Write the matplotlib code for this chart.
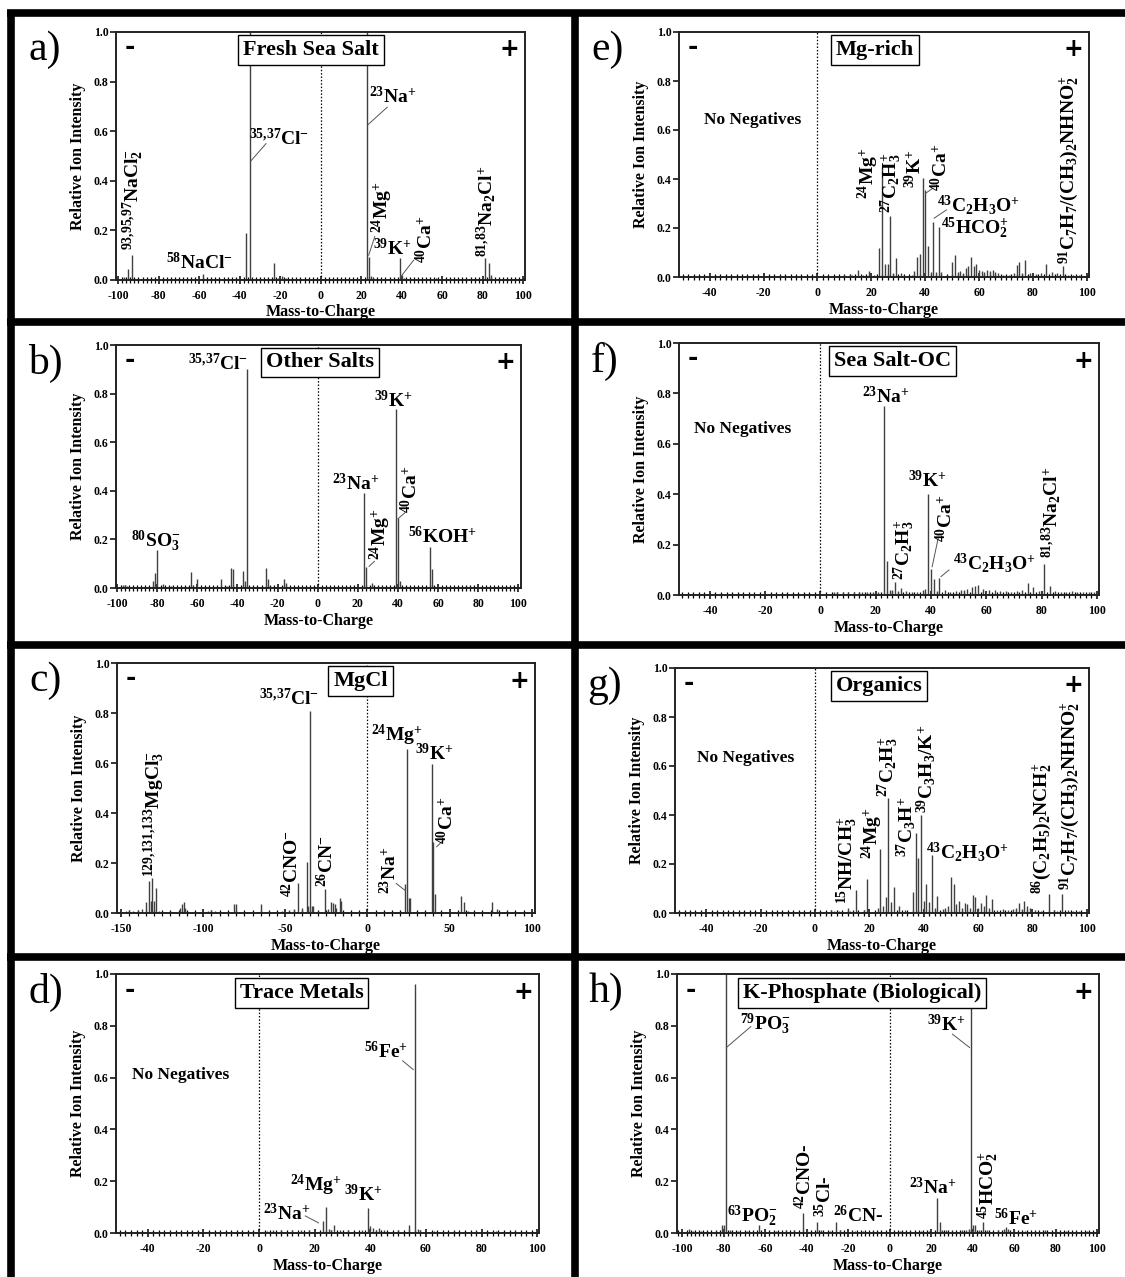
import matplotlib
matplotlib.use("Agg")
import matplotlib.pyplot as plt
import matplotlib.transforms as mtransforms
from matplotlib.lines import Line2D
from matplotlib.ticker import MultipleLocator, FormatStrFormatter

plt.rcParams["font.family"] = ["Liberation Serif", "DejaVu Serif"]
plt.rcParams["font.weight"] = "bold"
plt.rcParams["mathtext.default"] = "regular"
plt.rcParams["axes.unicode_minus"] = False

# (m/z, relative intensity)
a_peaks = [(-97, 0.012), (-95, 0.043), (-93, 0.10), (-90, 0.006), (-58, 0.024), (-37, 0.19),
           (-35, 1.0), (-30, 0.006), (-23, 0.07), (-21, 0.01), (-19, 0.016), (-17, 0.008),
           (23, 1.0), (24, 0.094), (25, 0.015), (26, 0.01), (39, 0.09), (40, 0.02), (41, 0.008),
           (57, 0.008), (81, 0.087), (83, 0.067), (84, 0.02)]
b_peaks = [(-97, 0.012), (-96, 0.014), (-95, 0.01), (-82, 0.03), (-81, 0.063), (-80, 0.155),
           (-77, 0.015), (-73, 0.01), (-63, 0.067), (-62, 0.01), (-60, 0.037), (-48, 0.037),
           (-45, 0.01), (-43, 0.081), (-42, 0.078), (-37, 0.069), (-36, 0.03), (-35, 0.9),
           (-26, 0.081), (-25, 0.036), (-24, 0.01), (-17, 0.036), (-16, 0.02), (23, 0.39),
           (24, 0.088), (27, 0.02), (30, 0.008), (39, 0.735), (40, 0.288), (41, 0.027),
           (56, 0.17), (57, 0.078), (60, 0.01), (76, 0.01)]
c_peaks = [(-147, 0.01), (-145, 0.012), (-143, 0.01), (-140, 0.012), (-137, 0.015), (-135, 0.045),
           (-133, 0.13), (-132, 0.05), (-131, 0.14), (-130, 0.05), (-129, 0.10), (-127, 0.01),
           (-120, 0.008), (-114, 0.02), (-113, 0.035), (-112, 0.045), (-111, 0.02), (-97, 0.01),
           (-95, 0.012), (-93, 0.01), (-81, 0.035), (-80, 0.035), (-65, 0.035), (-60, 0.01),
           (-52, 0.01), (-48, 0.012), (-45, 0.015), (-42, 0.12), (-40, 0.02), (-37, 0.205),
           (-36, 0.03), (-35, 0.81), (-34, 0.03), (-33, 0.03), (-30, 0.01), (-26, 0.096),
           (-24, 0.015), (-22, 0.045), (-21, 0.04), (-20, 0.035), (-19, 0.02), (-17, 0.06),
           (-16, 0.05), (23, 0.115), (24, 0.655), (25, 0.06), (26, 0.06), (39, 0.595),
           (40, 0.285), (41, 0.075), (57, 0.068), (59, 0.045), (61, 0.01), (76, 0.045),
           (79, 0.015), (85, 0.008)]
d_peaks = [(3, 0.008), (5, 0.01), (8, 0.01), (12, 0.01), (15, 0.012), (18, 0.01), (23, 0.045),
           (24, 0.10), (25, 0.015), (26, 0.012), (27, 0.03), (29, 0.012), (32, 0.01), (37, 0.01),
           (39, 0.097), (40, 0.026), (41, 0.02), (42, 0.012), (43, 0.02), (45, 0.01), (50, 0.01),
           (54, 0.03), (56, 0.96), (57, 0.015), (58, 0.01), (63, 0.008), (70, 0.008), (78, 0.008),
           (85, 0.008), (92, 0.008)]
e_peaks = [(6, 0.005), (10, 0.008), (12, 0.012), (13, 0.01), (15, 0.028), (17, 0.008), (19, 0.025),
           (21, 0.008), (23, 0.117), (24, 0.45), (25, 0.055), (26, 0.055), (27, 0.25), (28, 0.015),
           (29, 0.078), (31, 0.015), (32, 0.01), (35, 0.008), (36, 0.025), (37, 0.083), (38, 0.095),
           (39, 0.405), (40, 0.355), (41, 0.128), (42, 0.02), (43, 0.225), (44, 0.02), (45, 0.205),
           (46, 0.02), (48, 0.01), (50, 0.06), (51, 0.088), (52, 0.02), (53, 0.025), (54, 0.015),
           (55, 0.035), (56, 0.045), (57, 0.083), (58, 0.045), (59, 0.055), (60, 0.03), (61, 0.025),
           (62, 0.02), (63, 0.03), (64, 0.025), (65, 0.03), (66, 0.02), (67, 0.015), (69, 0.01),
           (71, 0.01), (73, 0.015), (74, 0.05), (75, 0.06), (76, 0.015), (77, 0.07), (79, 0.015),
           (81, 0.012), (83, 0.015), (85, 0.055), (87, 0.02), (89, 0.015), (91, 0.043), (93, 0.01),
           (95, 0.008), (97, 0.008)]
f_peaks = [(5, 0.01), (6, 0.012), (8, 0.01), (10, 0.012), (12, 0.01), (14, 0.012), (15, 0.012),
           (17, 0.01), (19, 0.012), (21, 0.01), (23, 0.75), (24, 0.135), (25, 0.02), (26, 0.02),
           (27, 0.053), (28, 0.015), (29, 0.026), (31, 0.015), (33, 0.012), (35, 0.012), (37, 0.02),
           (38, 0.022), (39, 0.40), (40, 0.105), (41, 0.063), (42, 0.015), (43, 0.068), (45, 0.02),
           (47, 0.012), (49, 0.015), (51, 0.02), (52, 0.018), (53, 0.022), (55, 0.03), (56, 0.035),
           (57, 0.04), (59, 0.025), (61, 0.018), (63, 0.02), (65, 0.015), (67, 0.015), (69, 0.012),
           (71, 0.015), (73, 0.018), (75, 0.046), (77, 0.033), (79, 0.015), (81, 0.125), (83, 0.035),
           (85, 0.015), (87, 0.012), (89, 0.012), (91, 0.015), (93, 0.012), (95, 0.012), (97, 0.01),
           (99, 0.01)]
g_peaks = [(6, 0.013), (7, 0.01), (9, 0.008), (12, 0.022), (13, 0.008), (15, 0.095), (18, 0.012),
           (19, 0.14), (23, 0.02), (24, 0.262), (25, 0.03), (26, 0.065), (27, 0.468), (28, 0.045),
           (29, 0.105), (31, 0.03), (33, 0.012), (36, 0.085), (37, 0.327), (38, 0.226), (39, 0.40),
           (40, 0.05), (41, 0.12), (42, 0.045), (43, 0.238), (44, 0.02), (45, 0.07), (47, 0.015),
           (48, 0.02), (49, 0.03), (50, 0.147), (51, 0.117), (52, 0.035), (53, 0.05), (54, 0.02),
           (55, 0.04), (56, 0.035), (57, 0.02), (58, 0.073), (59, 0.066), (60, 0.02), (61, 0.04),
           (62, 0.03), (63, 0.072), (64, 0.02), (65, 0.058), (67, 0.012), (69, 0.015), (71, 0.012),
           (73, 0.015), (74, 0.02), (75, 0.04), (76, 0.015), (77, 0.05), (78, 0.03), (79, 0.02),
           (81, 0.012), (83, 0.01), (86, 0.077), (88, 0.012), (89, 0.01), (91, 0.078), (93, 0.012),
           (95, 0.01), (97, 0.008)]
h_peaks = [(-97, 0.014), (-95, 0.008), (-91, 0.008), (-88, 0.008), (-84, 0.008), (-81, 0.032),
           (-80, 0.03), (-79, 1.0), (-77, 0.01), (-73, 0.008), (-69, 0.008), (-63, 0.032),
           (-60, 0.008), (-55, 0.008), (-50, 0.01), (-46, 0.01), (-42, 0.077), (-40, 0.01),
           (-35, 0.043), (-33, 0.01), (-29, 0.008), (-26, 0.043), (-24, 0.01), (-17, 0.008),
           (-13, 0.008), (-8, 0.008), (5, 0.008), (10, 0.008), (15, 0.008), (19, 0.008),
           (23, 0.137), (24, 0.043), (25, 0.012), (27, 0.01), (30, 0.008), (35, 0.01), (37, 0.012),
           (38, 0.015), (39, 0.98), (40, 0.032), (41, 0.032), (43, 0.012), (45, 0.043), (47, 0.012),
           (52, 0.01), (55, 0.015), (56, 0.023), (57, 0.015), (60, 0.01), (65, 0.008), (70, 0.008),
           (75, 0.01), (80, 0.01), (85, 0.008), (90, 0.008), (95, 0.008)]

titles = ["Fresh Sea Salt", "Other Salts", "MgCl", "Trace Metals",
          "Mg-rich", "Sea Salt-OC", "Organics", "K-Phosphate (Biological)"]
letters = ["a)", "b)", "c)", "d)", "e)", "f)", "g)", "h)"]

W, H = 1125, 1277
fig = plt.figure(figsize=(W / 100, H / 100), dpi=100)
fig.patch.set_facecolor("white")


def px_rect(l, t, r, b):
    return [l / W, 1 - b / H, (r - l) / W, (b - t) / H]


def draw_panel(i, box, xlim, peaks, title_x, labels, leaders, no_neg=None, major=20, minor=2):
    l, t, r, b = box
    ax = fig.add_axes(px_rect(l, t, r, b))
    mz = [p[0] for p in peaks]
    inten = [p[1] for p in peaks]
    ax.vlines(mz, 0, inten, color="#404040", lw=1.0, zorder=2)
    ax.axvline(0, color="black", lw=0.9, ls=(0, (1.2, 1.5)), zorder=1)
    ax.set_xlim(xlim)
    ax.set_ylim(0, 1)
    ax.xaxis.set_major_locator(MultipleLocator(major))
    ax.xaxis.set_minor_locator(MultipleLocator(minor))
    ax.set_yticks([0, 0.2, 0.4, 0.6, 0.8, 1.0])
    ax.yaxis.set_major_formatter(FormatStrFormatter("%.1f"))
    ax.tick_params(axis="x", which="major", direction="inout", length=6, width=1.1,
                   labelsize=8.5, pad=4.5)
    ax.tick_params(axis="x", which="minor", direction="inout", length=4, width=0.9)
    ax.tick_params(axis="y", direction="out", length=4, width=1.1, labelsize=8.5, pad=1.5)
    for lab in ax.get_xticklabels() + ax.get_yticklabels():
        lab.set_fontweight("bold")
    for s in ax.spines.values():
        s.set_linewidth(1.4)
        s.set_color("#222222")
    ax.set_xlabel("Mass-to-Charge", fontsize=11.5, fontweight="bold")
    ax.xaxis.set_label_coords(0.5, -24.5 / (b - t))
    ax.set_ylabel("Relative Ion Intensity", fontsize=11.5, fontweight="bold")
    ax.yaxis.set_label_coords(-30 / (r - l), 0.5)

    trans = mtransforms.blended_transform_factory(ax.transData, ax.transAxes)
    ax.text(title_x, 0.928, titles[i], transform=trans, ha="center", va="center", fontsize=16,
            fontweight="bold",
            bbox=dict(boxstyle="square,pad=0.22", fc="white", ec="black", lw=1.0), zorder=6)
    ax.text(0.033, 0.94, "-", transform=ax.transAxes, ha="center", va="center",
            fontsize=18, family="DejaVu Sans", weight="heavy")
    ax.text(0.962, 0.93, "+", transform=ax.transAxes, ha="center", va="center",
            fontsize=17, family="DejaVu Sans", weight="heavy")
    fig.text((l - 88) / W, 1 - (t + 18) / H, letters[i], fontsize=30, fontweight="normal",
             ha="left", va="center")
    if no_neg is not None:
        ax.text(no_neg[0], no_neg[1], "No Negatives", fontsize=12.5, fontweight="bold",
                ha="left", va="center")
    for s, x, y, rot in labels:
        if rot:
            ax.text(x, y, s, rotation=90, ha="center", va="bottom", fontsize=14,
                    fontweight="bold", zorder=4)
        else:
            ax.text(x, y, s, ha="left", va="baseline", fontsize=14, fontweight="bold", zorder=4)
    for x1, y1, x2, y2 in leaders:
        ax.plot([x1, x2], [y1, y2], color="#555555", lw=0.7, zorder=3)
    return ax


# a) Fresh Sea Salt
draw_panel(0, (116, 32, 525, 280), (-101.1, 100.9), a_peaks, -4.8,
           [(r"$^{93{,}95{,}97}$NaCl$_{2}^{-}$", -92.5, 0.12, True),
            (r"$^{58}$NaCl$^{-}$", -76.5, 0.045, False),
            (r"$^{35{,}37}$Cl$^{-}$", -35.5, 0.545, False),
            (r"$^{23}$Na$^{+}$", 24, 0.713, False),
            (r"$^{24}$Mg$^{+}$", 30.6, 0.19, True),
            (r"$^{39}$K$^{+}$", 25.8, 0.10, False),
            (r"$^{40}$Ca$^{+}$", 52, 0.067, True),
            (r"$^{81{,}83}$Na$_{2}$Cl$^{+}$", 81.9, 0.094, True)],
           [(-34.5, 0.48, -27, 0.55), (23.3, 0.626, 32.9, 0.697),
            (23.7, 0.10, 26.7, 0.175), (39.5, 0.013, 45.9, 0.08)])

# b) Other Salts
axb = draw_panel(1, (116, 345, 521, 588), (-100.5, 101.3), b_peaks, 1.3,
                 [(r"$^{80}$SO$_{3}^{-}$", -92.8, 0.171, False),
                  (r"$^{39}$K$^{+}$", 28.3, 0.744, False),
                  (r"$^{23}$Na$^{+}$", 7.1, 0.404, False),
                  (r"$^{24}$Mg$^{+}$", 31, 0.116, True),
                  (r"$^{40}$Ca$^{+}$", 46.2, 0.31, True),
                  (r"$^{56}$KOH$^{+}$", 44.8, 0.185, False)],
                 [(25.6, 0.089, 28.3, 0.11), (40, 0.285, 43.5, 0.31)])
axb.text(-34.5, 0.897, r"$^{35{,}37}$Cl$^{-}$", ha="right", va="baseline", fontsize=14,
         fontweight="bold", zorder=4)

# c) MgCl
draw_panel(2, (117, 663, 535, 913), (-152.5, 102), c_peaks, -4.2,
           [(r"$^{129{,}131{,}133}$MgCl$_{3}^{-}$", -130, 0.144, True),
            (r"$^{35{,}37}$Cl$^{-}$", -65.8, 0.833, False),
            (r"$^{42}$CNO$^{-}$", -46.5, 0.064, True),
            (r"$^{26}$CN$^{-}$", -25.2, 0.104, True),
            (r"$^{23}$Na$^{+}$", 13.6, 0.078, True),
            (r"$^{24}$Mg$^{+}$", 2.2, 0.686, False),
            (r"$^{39}$K$^{+}$", 28.9, 0.61, False),
            (r"$^{40}$Ca$^{+}$", 48.2, 0.278, True)],
           [(23, 0.09, 17.5, 0.118), (42.1, 0.265, 46, 0.29)],
           major=50, minor=5)

# d) Trace Metals
draw_panel(3, (116, 974, 539, 1233), (-51.4, 100.6), d_peaks, 15.3,
           [(r"$^{56}$Fe$^{+}$", 37.6, 0.676, False),
            (r"$^{24}$Mg$^{+}$", 11.1, 0.161, False),
            (r"$^{39}$K$^{+}$", 30.5, 0.122, False),
            (r"$^{23}$Na$^{+}$", 1.6, 0.051, False)],
           [(55.4, 0.631, 51.6, 0.665), (21.4, 0.039, 16.6, 0.066)],
           no_neg=(-45.8, 0.611))

# e) Mg-rich
draw_panel(4, (679, 32, 1089, 277), (-51.4, 100.8), e_peaks, 21.3,
           [(r"$^{24}$Mg$^{+}$", 18.8, 0.32, True),
            (r"$^{27}$C$_{2}$H$_{3}^{+}$", 27.5, 0.26, True),
            (r"$^{39}$K$^{+}$", 36.2, 0.363, True),
            (r"$^{40}$Ca$^{+}$", 45.6, 0.35, True),
            (r"$^{43}$C$_{2}$H$_{3}$O$^{+}$", 44.2, 0.267, False),
            (r"$^{45}$HCO$_{2}^{+}$", 46, 0.178, False),
            (r"$^{91}$C$_{7}$H$_{7}$/(CH$_{3}$)$_{2}$NHNO$_{2}^{+}$", 93.7, 0.055, True)],
           [(40.2, 0.342, 42.9, 0.363), (43.3, 0.24, 47.9, 0.274)],
           no_neg=(-42.2, 0.641))

# f) Sea Salt-OC
draw_panel(5, (679, 343, 1099, 595), (-51.2, 100.8), f_peaks, 26.2,
           [(r"$^{23}$Na$^{+}$", 15, 0.762, False),
            (r"$^{39}$K$^{+}$", 31.5, 0.429, False),
            (r"$^{27}$C$_{2}$H$_{3}^{+}$", 30.2, 0.06, True),
            (r"$^{40}$Ca$^{+}$", 45.2, 0.211, True),
            (r"$^{43}$C$_{2}$H$_{3}$O$^{+}$", 47.8, 0.1, False),
            (r"$^{81{,}83}$Na$_{2}$Cl$^{+}$", 83.6, 0.145, True)],
           [(40.4, 0.112, 42.6, 0.225), (43.6, 0.073, 46.5, 0.099)],
           no_neg=(-45.6, 0.66))

# g) Organics
draw_panel(6, (675, 668, 1089, 913), (-51.5, 100.8), g_peaks, 23.6,
           [(r"$^{15}$NH/CH$_{3}^{+}$", 11.8, 0.038, True),
            (r"$^{24}$Mg$^{+}$", 21.3, 0.222, True),
            (r"$^{27}$C$_{2}$H$_{3}^{+}$", 26.9, 0.475, True),
            (r"$^{37}$C$_{3}$H$^{+}$", 33.5, 0.229, True),
            (r"$^{39}$C$_{3}$H$_{3}$/K$^{+}$", 40.8, 0.407, True),
            (r"$^{43}$C$_{2}$H$_{3}$O$^{+}$", 40.8, 0.222, False),
            (r"$^{86}$(C$_{2}$H$_{5}$)$_{2}$NCH$_{2}^{+}$", 83.8, 0.079, True),
            (r"$^{91}$C$_{7}$H$_{7}$/(CH$_{3}$)$_{2}$NHNO$_{2}^{+}$", 93.8, 0.093, True)],
           [],
           no_neg=(-43.3, 0.632))

# h) K-Phosphate (Biological)
draw_panel(7, (677, 974, 1099, 1233), (-102.6, 100.9), h_peaks, -13.4,
           [(r"$^{79}$PO$_{3}^{-}$", -72.2, 0.785, False),
            (r"$^{39}$K$^{+}$", 18, 0.778, False),
            (r"$^{63}$PO$_{2}^{-}$", -78.3, 0.043, False),
            (r"$^{42}$CNO-", -41, 0.094, True),
            (r"$^{35}$Cl-", -31.4, 0.062, True),
            (r"$^{26}$CN-", -27.6, 0.043, False),
            (r"$^{23}$Na$^{+}$", 9.4, 0.152, False),
            (r"$^{45}$HCO$_{2}^{+}$", 47.6, 0.055, True),
            (r"$^{56}$Fe$^{+}$", 50.2, 0.03, False)],
           [(-78.8, 0.716, -67, 0.797), (38.5, 0.716, 30.2, 0.768)])

# thick panel borders
borders = [((7, 12.5), (1125, 12.5)), ((10.5, 10), (10.5, 1277)), ((574.5, 10), (574.5, 1277)),
           ((7, 322), (1125, 322)), ((7, 645), (1125, 645)), ((7, 957), (1125, 957))]
for (x1, y1), (x2, y2) in borders:
    fig.add_artist(Line2D([x1 / W, x2 / W], [1 - y1 / H, 1 - y2 / H], transform=fig.transFigure,
                          color="black", lw=5.5, solid_capstyle="butt"))

fig.savefig("out.png", dpi=100, facecolor="white")
